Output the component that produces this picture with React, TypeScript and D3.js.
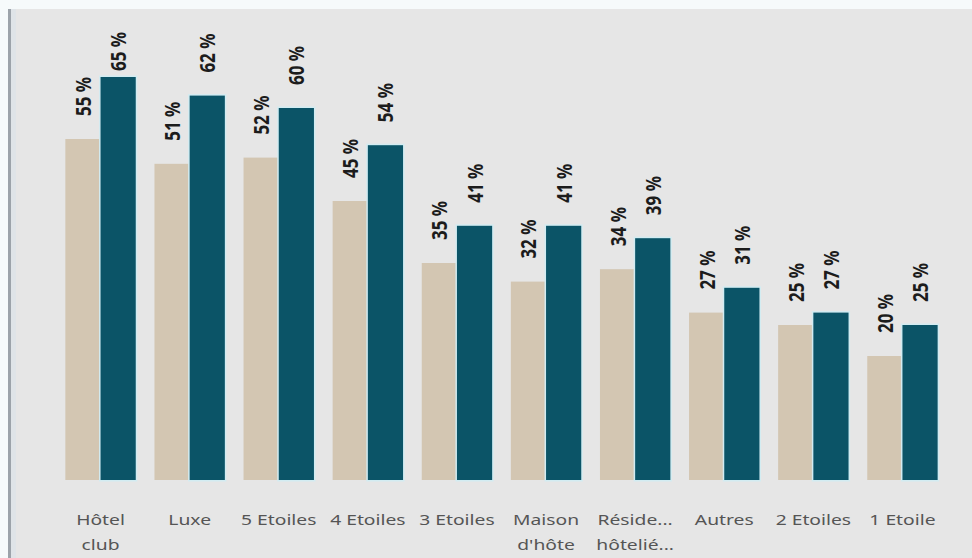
import React from "react";
import * as d3 from "d3";

const categories = ["Hôtel club", "Luxe", "5 Etoiles", "4 Etoiles", "3 Etoiles", "Maison d'hôte", "Résidence hôtelière", "Autres", "2 Etoiles", "1 Etoile"];
const categoryLines = [["Hôtel", "club"], ["Luxe"], ["5 Etoiles"], ["4 Etoiles"], ["3 Etoiles"], ["Maison", "d'hôte"], ["Réside...", "hôtelié..."], ["Autres"], ["2 Etoiles"], ["1 Etoile"]];
const seriesNames = ["previous", "current"];
const previousValues = [55, 51, 52, 45, 35, 32, 34, 27, 25, 20];
const currentValues = [65, 62, 60, 54, 41, 41, 39, 31, 27, 25];
const seriesColors = ["#d3c6b2", "#0b5467"];

const W = 972;
const H = 558;

export default function App() {
  const x = d3.scaleBand<string>().domain(categories).range([56, 947]).paddingInner(0.21).paddingOuter(0.105);
  const xs = d3.scaleBand<string>().domain(seriesNames).range([0, x.bandwidth()]).padding(0);
  const y = d3.scaleLinear().domain([0, 65]).range([480, 77]);
  const values = [previousValues, currentValues];

  return (
    <svg width={W} height={H} style={{ position: "absolute", left: 0, top: 0, display: "block" }}>
      <rect x={0} y={0} width={W} height={H} fill="#f6fafb" />
      <rect x={8} y={9} width={W - 8} height={H - 9} fill="#e6e6e6" />
      <rect x={8} y={9} width={3} height={H - 9} fill="#9ca3aa" />
      <rect x={11} y={9} width={5} height={H - 9} fill="#dfe4e8" />
      {categories.map((c, i) => (
        <g key={c}>
          {seriesNames.map((s, k) => {
            const v = values[k][i];
            const bx = (x(c) ?? 0) + (xs(s) ?? 0);
            const bw = xs.bandwidth();
            const top = y(v);
            const L = 44;
            const start = Math.max(top - 23, 27 + L);
            const cx = bx + bw / 2;
            return (
              <g key={s}>
                {k === 1 && (
                  <rect x={bx - 1.5} y={top - 1.5} width={bw + 3} height={y(0) - top + 3} fill="#d2ecf2" />
                )}
                <rect x={bx} y={top} width={bw} height={y(0) - top} fill={seriesColors[k]} />
                <text
                  transform={`translate(${cx},${start}) scale(1.3,1) rotate(-90)`}
                  dy="0.36em"
                  textAnchor="start"
                  fontFamily="'Noto Sans', sans-serif"
                  fontWeight={700}
                  fontSize={17}
                  fill="#1c1c1c"
                >
                  {`${v} %`}
                </text>
              </g>
            );
          })}
          {categoryLines[i].map((line, j) => (
            <text
              key={j}
              transform={`translate(${(x(c) ?? 0) + x.bandwidth() / 2},${525 + j * 25}) scale(1.33,1)`}
              textAnchor="middle"
              fontFamily="'Noto Sans', sans-serif"
              fontSize={14.5}
              fill="#555555"
            >
              {line}
            </text>
          ))}
        </g>
      ))}
    </svg>
  );
}
